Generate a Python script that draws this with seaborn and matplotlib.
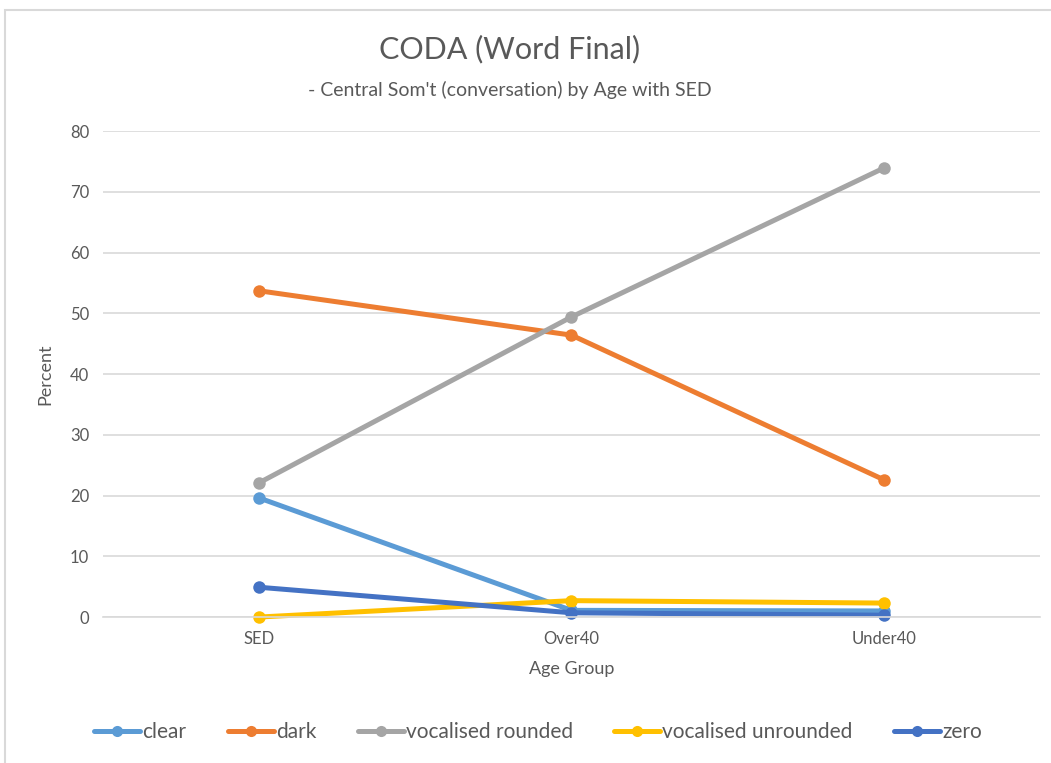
import matplotlib
matplotlib.use("Agg")
import matplotlib.pyplot as plt
import seaborn as sns
import pandas as pd
from matplotlib.patches import Rectangle

age_groups = ["SED", "Over40", "Under40"]
series_names = ["clear", "dark", "vocalised rounded", "vocalised unrounded", "zero"]
clear = [19.6, 1.1, 1.0]
dark = [53.7, 46.4, 22.6]
vocalised_rounded = [22.1, 49.4, 73.9]
vocalised_unrounded = [0.0, 2.7, 2.3]
zero = [4.9, 0.7, 0.3]
y_ticks = [0, 10, 20, 30, 40, 50, 60, 70, 80]

colors = ["#5B9BD5", "#ED7D31", "#A5A5A5", "#FFC000", "#4472C4"]

rows = []
for name, vals in zip(series_names,
                      [clear, dark, vocalised_rounded, vocalised_unrounded, zero]):
    for g, v in zip(age_groups, vals):
        rows.append({"Age Group": g, "Percent": v, "series": name})
df = pd.DataFrame(rows)

sns.set_theme(style="white")
plt.rcParams["font.family"] = ["Lato", "DejaVu Sans"]
text_color = "#595959"

fig = plt.figure(figsize=(10.51, 7.63), dpi=100)
ax = fig.add_axes([0.098, 0.1913, 0.8915, 0.637])

sns.lineplot(data=df, x="Age Group", y="Percent", hue="series",
             hue_order=series_names, palette=colors, marker="o",
             markersize=9, markeredgewidth=0, linewidth=3.6,
             sort=False, ax=ax, legend=False)
for line in ax.lines:
    line.set_clip_on(False)

ax.set_xlim(-0.5, 2.5)
ax.set_ylim(0, 80)
ax.set_yticks(y_ticks)
ax.set_xticks(range(len(age_groups)))
ax.set_xticklabels(age_groups)
ax.yaxis.grid(True, color="#D9D9D9", linewidth=1.2)
ax.set_axisbelow(True)
for s in ["top", "right", "left"]:
    ax.spines[s].set_visible(False)
ax.spines["bottom"].set_color("#D9D9D9")
ax.spines["bottom"].set_linewidth(1.2)
ax.tick_params(axis="both", length=0, labelsize=12, colors=text_color, pad=10)

ax.set_xlabel("Age Group", fontsize=13, color=text_color, labelpad=10)
ax.set_ylabel("Percent", fontsize=13, color=text_color, labelpad=12)

fig.text(0.485, 0.935, "CODA (Word Final)", ha="center", va="center",
         fontsize=22, color=text_color)
fig.text(0.485, 0.882, "- Central Som't (conversation) by Age with SED",
         ha="center", va="center", fontsize=14, color=text_color)

handles = [plt.Line2D([], [], color=c, linewidth=3.6, marker="o",
                      markersize=8, markeredgewidth=0) for c in colors]
fig.legend(handles, series_names, loc="center", bbox_to_anchor=(0.512, 0.04),
           ncol=5, frameon=False, fontsize=15, labelcolor=text_color,
           handlelength=2.2, handletextpad=0.1, columnspacing=2.0)

fig.patches.append(Rectangle((0.005, -0.01), 1.2, 0.997, transform=fig.transFigure,
                             fill=False, edgecolor="#D9D9D9", linewidth=1.5))

fig.savefig("out.png", dpi=100, facecolor="white")
